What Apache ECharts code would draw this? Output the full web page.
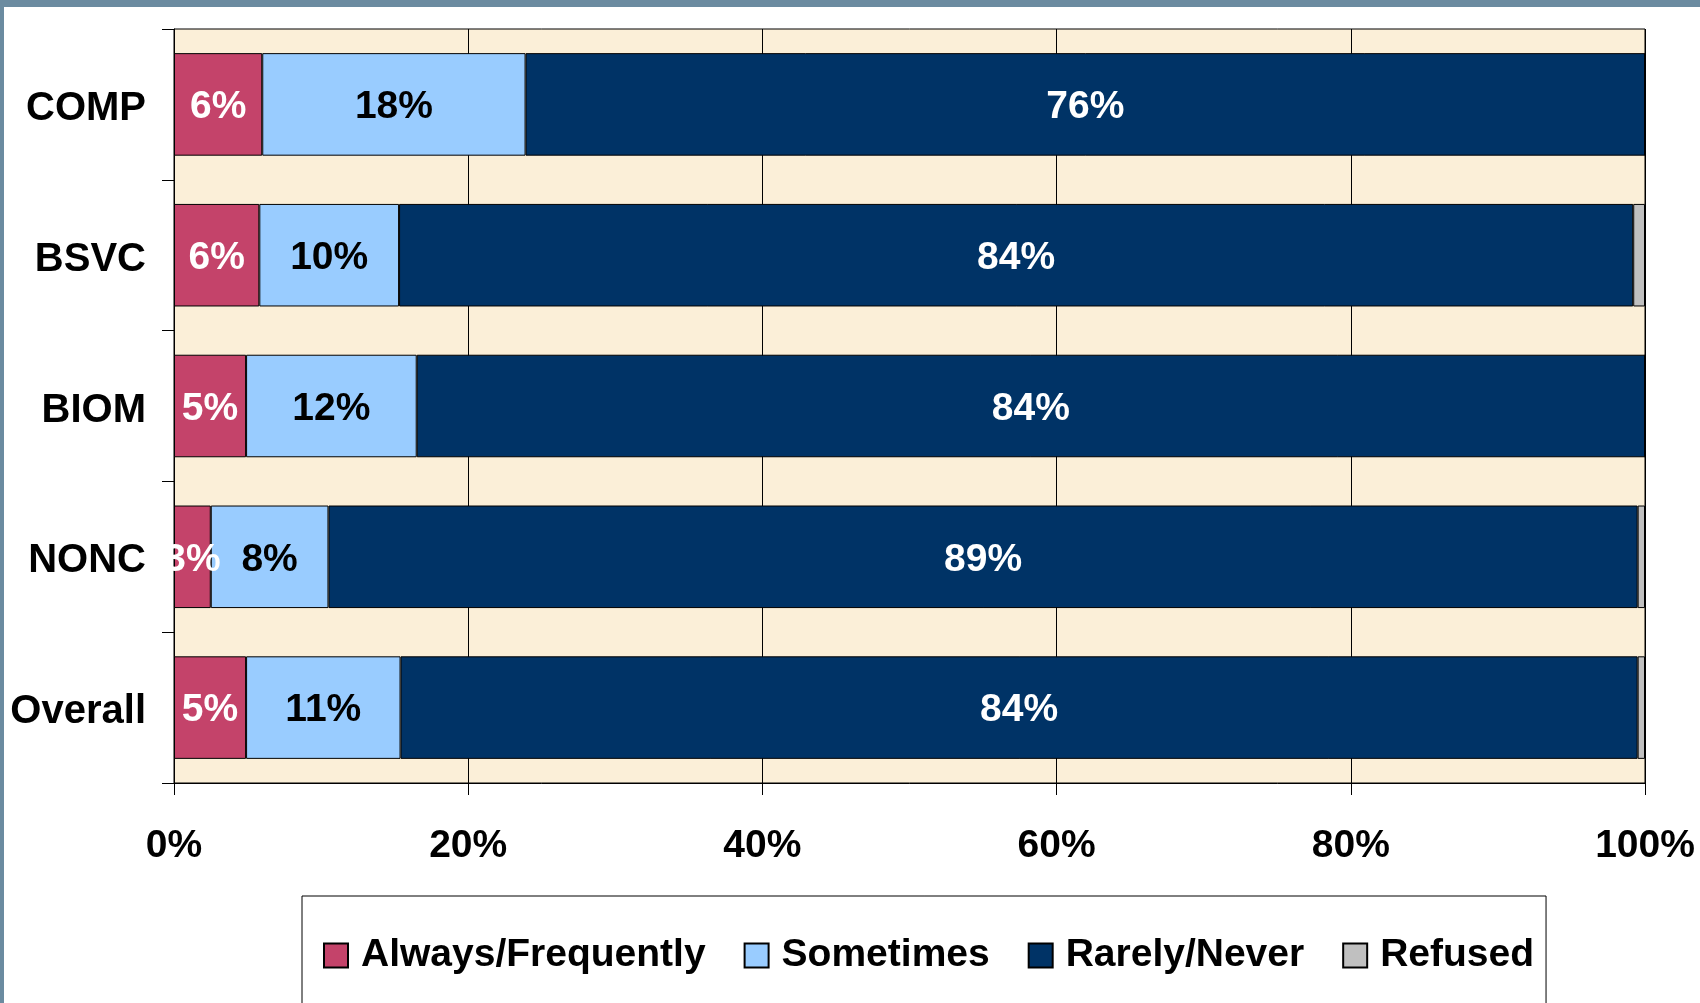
<!DOCTYPE html>
<html>
<head>
<meta charset="utf-8">
<script src="https://cdn.jsdelivr.net/npm/echarts@6/dist/echarts.min.js"></script>
<style>
    html, body { margin: 0; padding: 0; background: #ffffff; }
    #frame {
        position: absolute; left: 0; top: 0; width: 1700px; height: 1003px;
        background: #6b8ba0;
    }
    #chart {
        position: absolute; left: 4px; top: 7px; width: 1696px; height: 996px;
        background: #ffffff;
    }
</style>
</head>
<body>
<div id="frame"><div id="chart"></div></div>
<script>
const categories = ['COMP', 'BSVC', 'BIOM', 'NONC', 'Overall']
const always = [6.0, 5.8, 4.9, 2.5, 4.9]
const sometimes = [17.9, 9.5, 11.6, 8.0, 10.5]
const rarely = [76.1, 83.9, 83.5, 89.0, 84.1]
const refused = [0, 0.8, 0, 0.5, 0.5]
const seriesNames = ['Always/Frequently', 'Sometimes', 'Rarely/Never', 'Refused']

const FONT = "'Liberation Sans', Arial, sans-serif"

const myChart = echarts.init(document.getElementById('chart'))

function barSeries(name, data, color, labelColor) {
    return {
        name: name,
        type: 'bar',
        stack: 'total',
        barWidth: '68%',
        data: data,
        itemStyle: {
            color: color,
            borderColor: '#000000',
            borderWidth: 1
        },
        label: {
            show: labelColor != null,
            position: 'inside',
            offset: [0, 3],
            color: labelColor || '#000',
            fontFamily: FONT,
            fontWeight: 'bold',
            fontSize: 39,
            formatter: (p) => p.value >= 1 ? Math.round(p.value) + '%' : ''
        }
    }
}

let option = {
    animation: false,
    grid: {
        left: 170,
        top: 22,
        right: 55,
        bottom: 220,
        show: true,
        backgroundColor: '#fbefd8',
        borderColor: '#000000',
        borderWidth: 1
    },
    legend: {
        left: 298,
        top: 889,
        orient: 'horizontal',
        data: seriesNames,
        icon: 'rect',
        itemWidth: 24,
        itemHeight: 24,
        itemGap: 38,
        padding: [40, 12, 80, 21],
        borderColor: '#000000',
        borderWidth: 1,
        backgroundColor: '#ffffff',
        textStyle: {
            color: '#000',
            fontFamily: FONT,
            fontWeight: 'bold',
            fontSize: 39,
            padding: [3, 0, 0, 8]
        }
    },
    xAxis: {
        type: 'value',
        min: 0,
        max: 100,
        interval: 20,
        axisLine: { show: true, lineStyle: { color: '#000', width: 1 } },
        axisTick: { show: true, length: 12, lineStyle: { color: '#000', width: 1 } },
        splitLine: { show: true, lineStyle: { color: '#000', width: 1 } },
        axisLabel: {
            color: '#000',
            fontFamily: FONT,
            fontWeight: 'bold',
            fontSize: 39,
            margin: 44,
            formatter: '{value}%'
        }
    },
    yAxis: {
        type: 'category',
        inverse: true,
        data: categories,
        axisLine: { show: true, lineStyle: { color: '#000', width: 1 } },
        axisTick: { show: true, length: 12, lineStyle: { color: '#000', width: 1 } },
        splitLine: { show: false },
        axisLabel: {
            margin: 28,
            formatter: (v) => '{c|' + v + '}',
            rich: {
                c: {
                    color: '#000',
                    fontFamily: FONT,
                    fontWeight: 'bold',
                    fontSize: 40,
                    padding: [9, 0, 0, 0]
                }
            }
        }
    },
    series: [
        barSeries(seriesNames[0], always, '#c4436a', '#ffffff'),
        barSeries(seriesNames[1], sometimes, '#99ccff', '#000000'),
        barSeries(seriesNames[2], rarely, '#003366', '#ffffff'),
        barSeries(seriesNames[3], refused, '#c0c0c0', null)
    ]
}

myChart.setOption(option)
</script>
</body>
</html>
